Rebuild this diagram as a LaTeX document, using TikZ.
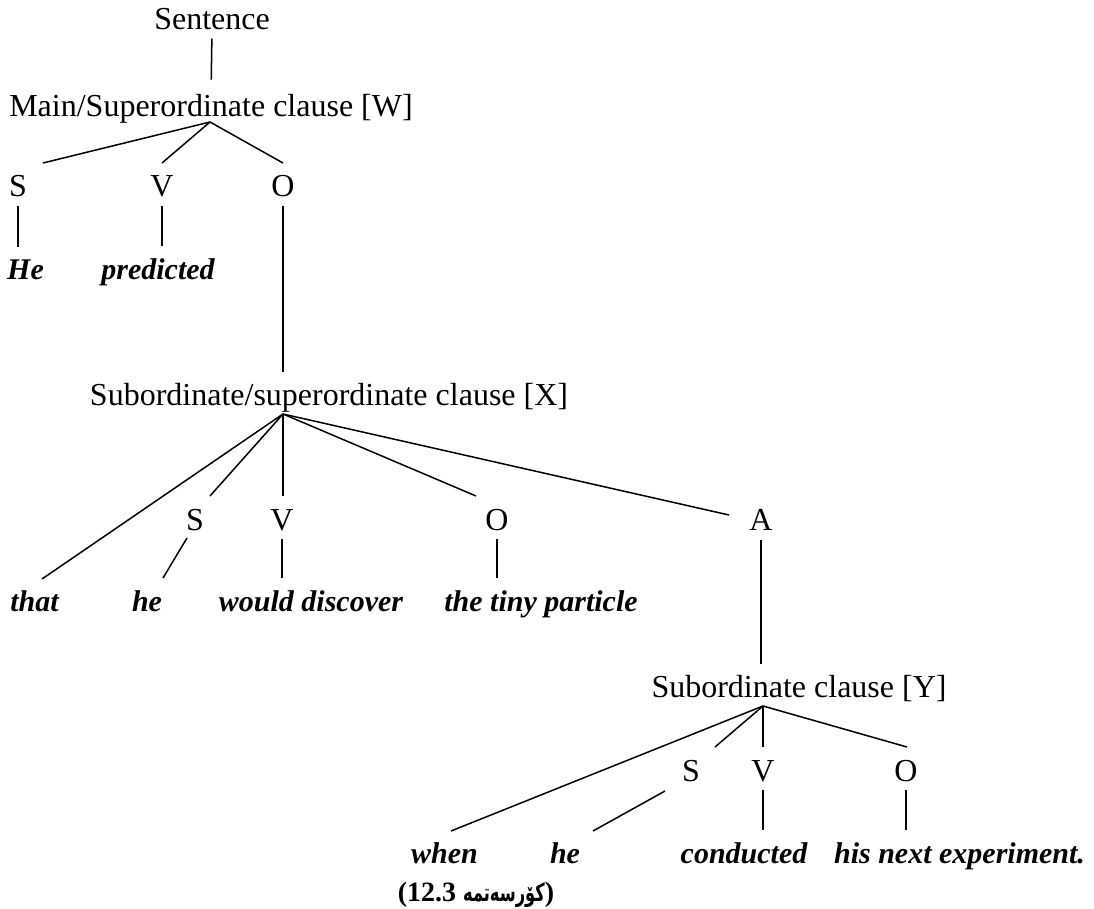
\documentclass[tikz,border=0pt]{standalone}
\usepackage{graphicx}
\usepackage{fontspec}
\setmainfont{Liberation Serif}
\newfontfamily\arabicfont[Script=Arabic]{DejaVu Sans}
\TeXXeTstate=1

\begin{document}
\begin{tikzpicture}[
    x=1pt, y=-1pt,
    phrase/.style={anchor=base, inner sep=0pt, font=\fontsize{32}{38}\selectfont},
    catg/.style={anchor=base, inner sep=0pt, font=\fontsize{32}{38}\selectfont},
    word/.style={anchor=base, inner sep=0pt, font=\fontsize{30}{36}\selectfont\bfseries\itshape},
    caption/.style={anchor=base, inner sep=0pt, font=\fontsize{28}{32}\selectfont\bfseries},
    branch/.style={line width=1.5pt},
    down/.style={branch, shorten <=8pt, shorten >=12pt}
]
\useasboundingbox (0,0) rectangle (1094,909);

% main clause
\node[phrase] (sent) at (212,30) {Sentence};
\node[phrase] (mainW) at (211,117) {Main/Superordinate clause [W]};
\node[catg] (wS) at (18,197) {S};
\node[catg] (wV) at (162,197) {V};
\node[catg] (wO) at (283,197) {O};
\node[word] (wHe) at (25.5,279) {He};
\node[word] (wPred) at (158,279) {predicted};

% subordinate/superordinate clause
\node[phrase] (subX) at (329,405) {Subordinate/superordinate clause [X]};
\node[catg] (xS) at (195,530) {S};
\node[catg] (xV) at (282,530) {V};
\node[catg] (xO) at (497,530) {O};
\node[catg] (xA) at (761,530) {A};
\node[word] (xThat) at (34.5,611) {that};
\node[word] (xHe) at (147,611) {he};
\node[word] (xDisc) at (311,611) {would discover};
\node[word] (xPart) at (541,611) {the tiny particle};

% subordinate clause
\node[phrase] (subY) at (799,697) {Subordinate clause [Y]};
\node[catg] (yS) at (691,781) {S};
\node[catg] (yV) at (763,781) {V};
\node[catg] (yO) at (906,781) {O};
\node[word] (yWhen) at (444.5,863) {when};
\node[word] (yHe) at (565,863) {he};
\node[word] (yCond) at (744,863) {conducted};
\node[word] (yExp) at (959.5,863) {his next experiment.};

\node[caption] (cap) at (476,901) {(12.3 \scalebox{0.65}[1]{\fontsize{25}{30}\selectfont\arabicfont\beginR کۆرسەتمە\endR})};

% junctions and branch tips
\coordinate (wJ) at (210,122);
\coordinate (wSt) at (43,163);
\coordinate (wVt) at (162,163);
\coordinate (wOt) at (283,163);
\coordinate (xJ) at (283,414);
\coordinate (xThatT) at (42,579);
\coordinate (xSt) at (210,496);
\coordinate (xVt) at (283,496);
\coordinate (xOt) at (476,496);
\coordinate (xAt) at (729,515);
\coordinate (xSb) at (187,538);
\coordinate (xHeT) at (163,578);
\coordinate (yJ) at (763,706);
\coordinate (yWhenT) at (451,831);
\coordinate (ySt) at (715,747);
\coordinate (yVt) at (763,747);
\coordinate (yOt) at (907,747);
\coordinate (ySb) at (665,791);
\coordinate (yHeT) at (593,831);

% connectors
\draw[branch, shorten <=8pt, shorten >=15pt] (sent.south) -- (mainW.north);
\draw[branch] (wJ) -- (wSt);
\draw[branch] (wJ) -- (wVt);
\draw[branch] (wJ) -- (wOt);
\draw[down] (wS.south) -- (wS.south |- wHe.north);
\draw[down] (wV.south) -- (wV.south |- wPred.north);
\draw[branch, shorten <=8pt, shorten >=11pt] (wO.south) -- (wO.south |- subX.north);

\draw[branch] (xJ) -- (xThatT);
\draw[branch] (xJ) -- (xSt);
\draw[branch] (xJ) -- (xVt);
\draw[branch] (xJ) -- (xOt);
\draw[branch] (xJ) -- (xAt);
\draw[branch] (xSb) -- (xHeT);
\draw[down] (xV.south) -- (xV.south |- xDisc.north);
\draw[down] (xO.south) -- (xO.south |- xPart.north);
\draw[branch, shorten <=10pt, shorten >=11pt] (xA.south) -- (xA.south |- subY.north);

\draw[branch] (yJ) -- (yWhenT);
\draw[branch] (yJ) -- (ySt);
\draw[branch] (yJ) -- (yVt);
\draw[branch] (yJ) -- (yOt);
\draw[branch] (ySb) -- (yHeT);
\draw[down] (yV.south) -- (yV.south |- yCond.north);
\draw[down] (yO.south) -- (yO.south |- yExp.north);
\end{tikzpicture}
\end{document}
